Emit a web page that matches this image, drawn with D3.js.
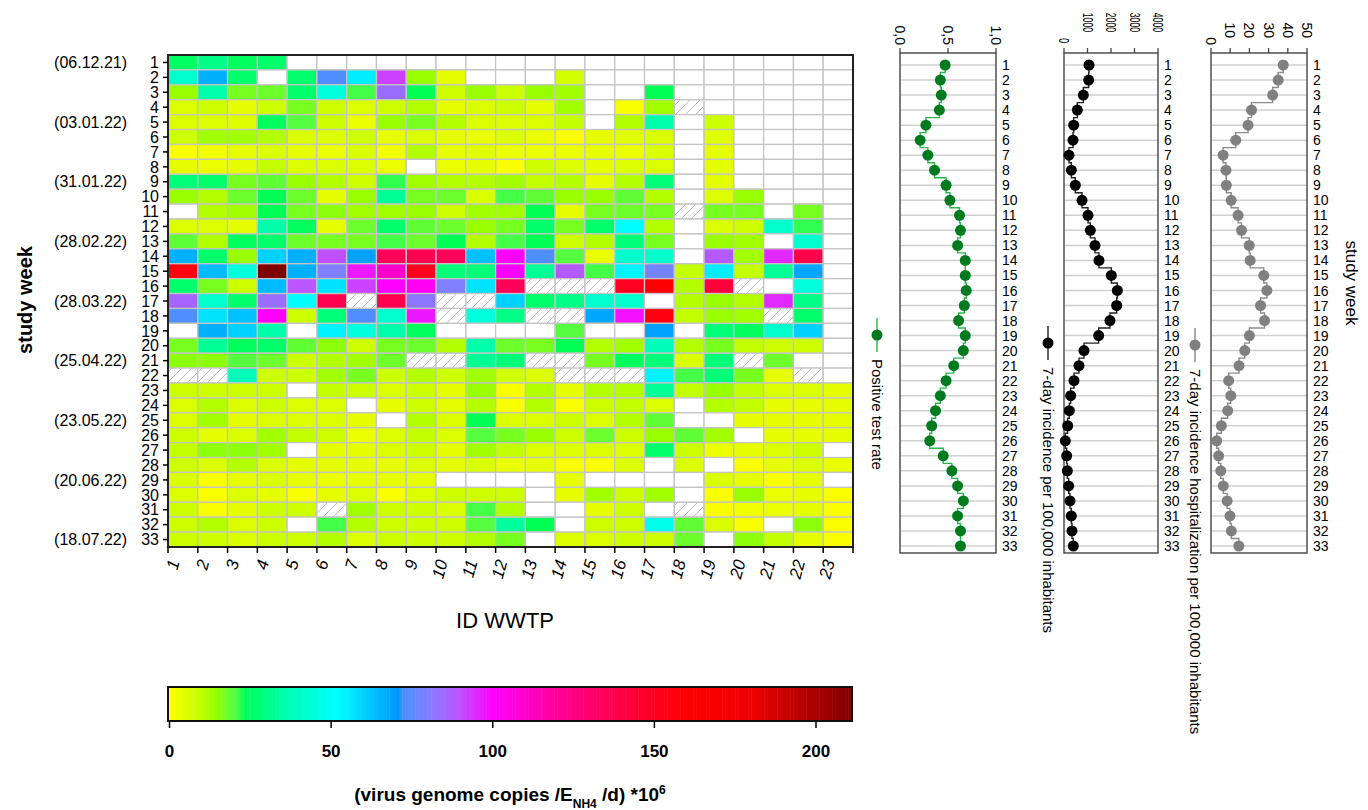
<!DOCTYPE html>
<meta charset="utf-8">
<style>
    body { margin: 0; background: #fff; }
    text { font-family: Arial, "Liberation Sans", sans-serif; fill: #000; }
</style>
<body>
<script src="https://d3js.org/d3.v7.min.js"></script>
<script>

var _ = null, H = "h"; // _ = no sample, H = hatched cell

var weeks = d3.range(1, 34);
var plants = d3.range(1, 24);
var weekDates = {1: "(06.12.21)", 5: "(03.01.22)", 9: "(31.01.22)", 13: "(28.02.22)", 17: "(28.03.22)",
                 21: "(25.04.22)", 25: "(23.05.22)", 29: "(20.06.22)", 33: "(18.07.22)"};

// virus load per week (rows) and WWTP (columns)
var load = [
    [25,30,24,26,_,_,_,_,_,_,_,_,_,_,_,_,_,_,_,_,_,_,_],
    [42,66,26,_,26,73,55,92,14,4,_,_,_,7,_,_,_,_,_,_,_,_,_],
    [14,35,17,18,26,45,21,84,23,8,14,8,14,13,_,_,23,_,_,_,_,_,_],
    [6,8,4,8,17,8,6,8,11,4,6,8,4,13,_,1,13,H,_,_,_,_,_],
    [6,6,5,24,20,8,3,14,17,11,6,6,6,9,_,11,35,_,8,_,_,_,_],
    [8,13,13,11,6,6,8,4,6,4,3,6,3,1,4,5,6,_,5,_,_,_,_],
    [1,2,4,6,4,3,6,2,11,4,5,3,3,3,4,3,6,_,4,_,_,_,_],
    [4,3,4,9,6,6,6,3,_,3,4,1,8,6,4,6,6,_,4,_,_,_,_],
    [28,26,17,19,14,11,8,22,13,11,11,13,9,11,4,11,28,_,4,_,_,_,_],
    [14,11,18,23,18,4,14,32,17,18,6,21,19,14,14,19,11,_,6,14,_,_,_],
    [_,11,13,23,17,15,13,13,14,8,13,13,23,4,17,18,17,H,17,17,_,17,_],
    [6,6,4,35,24,4,18,26,19,18,14,17,26,17,26,52,11,_,6,8,42,22,_],
    [19,11,24,26,18,17,17,21,18,23,11,21,23,8,11,28,17,_,14,13,_,42,_],
    [66,26,14,60,66,90,69,135,137,135,63,100,73,20,3,42,42,_,88,13,95,138,_],
    [155,64,45,211,66,80,97,110,150,28,28,100,32,88,21,54,78,9,55,9,32,68,_],
    [26,17,8,64,89,57,92,100,102,80,57,135,H,H,H,150,165,11,142,H,_,45,_],
    [86,42,26,84,52,138,H,138,82,H,H,60,26,30,42,42,_,11,14,11,95,30,_],
    [73,57,63,100,8,28,73,42,97,H,45,30,H,H,68,98,155,9,14,13,H,26,_],
    [_,66,60,35,_,54,45,35,24,_,_,_,_,20,_,_,69,_,28,24,42,60,_],
    [17,32,24,26,19,15,8,17,18,11,35,18,17,23,11,13,38,11,17,9,8,8,_],
    [15,15,20,18,8,11,13,18,H,H,32,28,H,H,17,24,28,6,28,H,18,_,_],
    [H,H,38,8,8,13,17,8,11,8,13,7,6,H,H,H,54,21,28,17,4,H,_],
    [8,8,8,8,_,9,8,6,8,4,14,1,11,4,11,11,32,9,14,9,6,6,4],
    [6,11,6,8,6,6,_,4,8,4,11,1,11,1,8,9,6,_,11,9,4,4,4],
    [6,13,4,6,6,6,4,_,11,6,23,6,6,8,6,11,19,_,_,4,4,4,4],
    [8,4,6,13,9,8,3,6,9,6,20,17,14,8,18,8,14,19,13,_,4,4,4],
    [9,15,15,13,_,4,4,6,8,4,13,9,6,6,6,6,26,8,3,4,6,8,_],
    [8,6,11,6,4,4,4,4,6,4,6,3,4,1,1,6,_,6,_,1,4,6,3],
    [6,1,4,6,4,3,4,4,4,_,_,_,_,4,_,_,_,_,6,4,1,4,_],
    [6,1,6,4,1,4,6,1,6,8,8,8,_,4,13,8,13,_,1,14,3,4,1],
    [8,1,4,8,8,H,13,8,8,6,21,11,_,_,4,8,_,H,1,2,3,4,1],
    [8,11,6,8,_,21,11,8,8,8,20,33,23,_,8,8,48,19,6,1,_,15,1],
    [8,8,6,8,8,11,6,8,8,8,11,17,_,6,6,8,8,18,_,15,9,4,1]
];

var positiveRate = [0.47,0.42,0.43,0.41,0.27,0.21,0.29,0.36,0.48,0.52,0.62,0.63,0.60,0.68,0.68,0.69,0.67,
                    0.61,0.68,0.66,0.56,0.48,0.42,0.37,0.33,0.31,0.45,0.54,0.60,0.66,0.60,0.63,0.63];
var incidence = [1064,1050,823,567,411,383,213,312,482,766,1021,1120,1319,1489,2014,2270,2241,
                 1957,1475,851,638,426,284,227,156,57,113,142,199,255,312,340,397];
var hospitalization = [37.6,35.0,32.1,21.1,19.3,12.9,6.3,7.8,8.0,10.5,14.1,15.9,19.9,20.4,27.5,29.1,25.8,
                       27.9,20.0,17.6,14.6,9.2,10.3,8.7,5.4,3.0,4.0,5.1,6.4,8.4,9.9,10.6,14.5];

var colorTicks = [0, 50, 100, 150, 200];
var colorMax = 211;

var color = d3.scaleLinear()
    .domain([0, 8, 14, 20, 22, 23, 35, 52, 66, 71, 72, 80, 90, 100, 110, 125, 145, 160, 180, 200, 211])
    .range(["#ffff00", "#ccff00", "#99ff00", "#55ff40", "#30ff50", "#00ff55", "#00ffaa", "#00ffff",
            "#00b0ff", "#0098ff", "#4890ff", "#8080ff", "#c050ff", "#ff00ff", "#ff00cc", "#ff0080",
            "#ff0030", "#ff0000", "#ee0000", "#a80000", "#800000"])
    .clamp(true);

var svg = d3.select("body").append("svg")
    .attr("width", 1368)
    .attr("height", 810);

var defs = svg.append("defs");
var hatch = defs.append("pattern")
    .attr("id", "hatch")
    .attr("patternUnits", "userSpaceOnUse")
    .attr("width", 10)
    .attr("height", 10);
hatch.append("rect").attr("width", 10).attr("height", 10).attr("fill", "#fff");
hatch.append("path")
    .attr("d", "M0,10 L10,0 M-2,2 L2,-2 M8,12 L12,8")
    .attr("stroke", "#bbb")
    .attr("stroke-width", 1);

// ---------- heatmap ----------
var x = d3.scaleBand().domain(plants).range([168, 853]);
var y = d3.scaleBand().domain(weeks).range([55, 547]);

var cells = [];
load.forEach(function(row, i) {
    row.forEach(function(v, j) {
        cells.push({week: weeks[i], plant: plants[j], value: v});
    });
});

svg.append("g").selectAll("rect")
    .data(cells)
    .enter()
    .append("rect")
    .attr("x", function(d) { return x(d.plant); })
    .attr("y", function(d) { return y(d.week); })
    .attr("width", x.bandwidth())
    .attr("height", y.bandwidth())
    .attr("fill", function(d) {
        if (d.value === null) return "#fff";
        if (d.value === H) return "url(#hatch)";
        return color(d.value);
    })
    .attr("stroke", "#c4c4c4")
    .attr("stroke-width", 1.3);

svg.append("rect")
    .attr("x", 168).attr("y", 55)
    .attr("width", 853 - 168).attr("height", 547 - 55)
    .attr("fill", "none")
    .attr("stroke", "#222")
    .attr("stroke-width", 2);

// left axis
var yAxis = svg.append("g");
yAxis.selectAll("line")
    .data(weeks)
    .enter()
    .append("line")
    .attr("x1", 163).attr("x2", 168)
    .attr("y1", function(d) { return y(d) + y.bandwidth() / 2; })
    .attr("y2", function(d) { return y(d) + y.bandwidth() / 2; })
    .attr("stroke", "#000")
    .attr("stroke-width", 1.5);
yAxis.selectAll("text.week")
    .data(weeks)
    .enter()
    .append("text")
    .attr("class", "week")
    .attr("x", 159)
    .attr("y", function(d) { return y(d) + y.bandwidth() / 2; })
    .attr("dy", "0.36em")
    .attr("text-anchor", "end")
    .style("font-size", "16px")
    .text(function(d) { return d; });
yAxis.selectAll("text.date")
    .data(Object.keys(weekDates))
    .enter()
    .append("text")
    .attr("class", "date")
    .attr("x", 127)
    .attr("y", function(d) { return y(+d) + y.bandwidth() / 2; })
    .attr("dy", "0.36em")
    .attr("text-anchor", "end")
    .style("font-size", "16px")
    .text(function(d) { return weekDates[d]; });

svg.append("text")
    .attr("transform", "translate(32,300) rotate(-90)")
    .attr("text-anchor", "middle")
    .style("font-size", "20px")
    .style("font-weight", "bold")
    .text("study week");

// bottom axis
var xAxis = svg.append("g");
xAxis.selectAll("line")
    .data(d3.range(0, 24))
    .enter()
    .append("line")
    .attr("x1", function(d) { return 168 + d * x.step(); })
    .attr("x2", function(d) { return 168 + d * x.step(); })
    .attr("y1", 547).attr("y2", 553)
    .attr("stroke", "#000")
    .attr("stroke-width", 1.5);
xAxis.selectAll("text")
    .data(plants)
    .enter()
    .append("text")
    .attr("transform", function(d) {
        return "translate(" + (x(d) + 6) + ",560) rotate(-75)";
    })
    .attr("text-anchor", "end")
    .attr("dy", "0.35em")
    .style("font-size", "17px")
    .style("font-style", "italic")
    .text(function(d) { return d; });

svg.append("text")
    .attr("x", 505).attr("y", 628)
    .attr("text-anchor", "middle")
    .style("font-size", "22px")
    .text("ID WWTP");

// ---------- colour bar ----------
var cb = d3.scaleLinear().domain([0, 200]).range([169.5, 816]);
var cbTop = 687, cbBottom = 721;

svg.append("g").selectAll("rect")
    .data(d3.range(0, colorMax, 1))
    .enter()
    .append("rect")
    .attr("x", function(d) { return cb(d); })
    .attr("y", cbTop)
    .attr("width", cb(1) - cb(0) + 0.5)
    .attr("height", cbBottom - cbTop)
    .attr("fill", function(d) { return color(d + 0.5); });

svg.append("rect")
    .attr("x", 168).attr("y", cbTop)
    .attr("width", 852 - 168).attr("height", cbBottom - cbTop)
    .attr("fill", "none")
    .attr("stroke", "#111")
    .attr("stroke-width", 2);

var cbAxis = svg.append("g");
cbAxis.selectAll("line")
    .data(colorTicks)
    .enter()
    .append("line")
    .attr("x1", function(d) { return cb(d); })
    .attr("x2", function(d) { return cb(d); })
    .attr("y1", cbBottom).attr("y2", cbBottom + 7)
    .attr("stroke", "#000")
    .attr("stroke-width", 1.5);
cbAxis.selectAll("text")
    .data(colorTicks)
    .enter()
    .append("text")
    .attr("x", function(d) { return cb(d); })
    .attr("y", 757)
    .attr("text-anchor", "middle")
    .style("font-size", "17px")
    .style("font-weight", "bold")
    .text(function(d) { return d; });

var cbTitle = svg.append("text")
    .attr("x", 510).attr("y", 801)
    .attr("text-anchor", "middle")
    .style("font-size", "19px")
    .style("font-weight", "bold");
cbTitle.append("tspan").text("(virus genome copies /E");
cbTitle.append("tspan").attr("baseline-shift", "sub").style("font-size", "12px").text("NH4");
cbTitle.append("tspan").text(" /d) *10");
cbTitle.append("tspan").attr("baseline-shift", "super").style("font-size", "12px").text("6");

// ---------- side panels ----------
var ys = d3.scalePoint().domain(weeks).range([65, 546]);
var panelTop = 53, panelBottom = 553;

function drawPanel(opt) {
    var xs = d3.scaleLinear().domain(opt.domain).range(opt.range);
    var g = svg.append("g");
    var data = opt.values.map(function(v, i) { return {week: weeks[i], value: v}; });

    g.selectAll("line.grid")
        .data(weeks)
        .enter()
        .append("line")
        .attr("class", "grid")
        .attr("x1", opt.range[0]).attr("x2", opt.range[1])
        .attr("y1", function(d) { return ys(d); })
        .attr("y2", function(d) { return ys(d); })
        .attr("stroke", "#d0d0d0")
        .attr("stroke-width", 1.5);

    g.append("rect")
        .attr("x", opt.range[0]).attr("y", panelTop)
        .attr("width", opt.range[1] - opt.range[0])
        .attr("height", panelBottom - panelTop)
        .attr("fill", "none")
        .attr("stroke", "#444")
        .attr("stroke-width", 1.4);

    g.selectAll("line.tick")
        .data(opt.ticks)
        .enter()
        .append("line")
        .attr("class", "tick")
        .attr("x1", function(d) { return xs(d); })
        .attr("x2", function(d) { return xs(d); })
        .attr("y1", panelTop).attr("y2", panelTop - 5)
        .attr("stroke", "#444")
        .attr("stroke-width", 1.3);

    g.selectAll("text.tick")
        .data(opt.ticks)
        .enter()
        .append("text")
        .attr("class", "tick")
        .attr("transform", function(d) {
            return "translate(" + xs(d) + "," + (d === 0 ? opt.labelEnd + opt.zeroShift : opt.labelEnd) + ") rotate(90)";
        })
        .attr("text-anchor", "end")
        .attr("dy", "0.35em")
        .style("font-size", "14px")
        .attr("textLength", opt.labelLength ? function(d) { return opt.labelFormat(d).length * opt.labelLength; } : null)
        .attr("lengthAdjust", "spacingAndGlyphs")
        .text(opt.labelFormat);

    g.selectAll("text.row")
        .data(weeks)
        .enter()
        .append("text")
        .attr("class", "row")
        .attr("x", opt.range[1] + 6)
        .attr("y", function(d) { return ys(d); })
        .attr("dy", "0.36em")
        .style("font-size", "14px")
        .text(function(d) { return d; });

    // step line, drawn with x/y swapped then transposed back
    var line = d3.line()
        .x(function(d) { return ys(d.week); })
        .y(function(d) { return xs(d.value); })
        .curve(d3.curveStep);
    g.append("g")
        .attr("transform", "matrix(0,1,1,0,0,0)")
        .append("path")
        .datum(data)
        .attr("d", line)
        .attr("fill", "none")
        .attr("stroke", opt.lineColor)
        .attr("stroke-width", 1.4);

    g.selectAll("circle")
        .data(data)
        .enter()
        .append("circle")
        .attr("cx", function(d) { return xs(d.value); })
        .attr("cy", function(d) { return ys(d.week); })
        .attr("r", 5.5)
        .attr("fill", opt.dotColor);

    // legend
    var lg = g.append("g");
    lg.append("line")
        .attr("x1", opt.legendX).attr("x2", opt.legendX)
        .attr("y1", opt.legendY - 17).attr("y2", opt.legendY + 17)
        .attr("stroke", opt.lineColor)
        .attr("stroke-width", 1.4);
    lg.append("circle")
        .attr("cx", opt.legendX).attr("cy", opt.legendY)
        .attr("r", 5.5)
        .attr("fill", opt.dotColor);
    lg.append("text")
        .attr("transform", "translate(" + opt.legendX + "," + (opt.legendY + 24) + ") rotate(90)")
        .attr("dy", "0.35em")
        .style("font-size", "15px")
        .text(opt.label);
}

drawPanel({
    domain: [0, 1], range: [900, 996], ticks: [0, 0.5, 1],
    labelFormat: function(d) { return d3.format(".1f")(d).replace(".", ","); },
    labelEnd: 45, zeroShift: 0,
    values: positiveRate, dotColor: "#007a1f", lineColor: "#27b84a",
    legendX: 877, legendY: 335, label: "Positive test rate"
});

drawPanel({
    domain: [0, 4000], range: [1064, 1158], ticks: [0, 1000, 2000, 3000, 4000],
    labelFormat: function(d) { return String(d); }, labelLength: 4.8,
    labelEnd: 32, zeroShift: 11,
    values: incidence, dotColor: "#000", lineColor: "#222",
    legendX: 1048, legendY: 343, label: "7-day incidence per 100,000 inhabitants"
});

drawPanel({
    domain: [0, 50], range: [1211, 1307], ticks: [0, 10, 20, 30, 40, 50],
    labelFormat: function(d) { return String(d); },
    labelEnd: 38, zeroShift: 7,
    values: hospitalization, dotColor: "#808080", lineColor: "#8a8a8a",
    legendX: 1195, legendY: 345, label: "7-day incidence hospitalization per 100,000 inhabitants"
});

svg.append("text")
    .attr("transform", "translate(1352,283) rotate(90)")
    .attr("text-anchor", "middle")
    .attr("dy", "0.35em")
    .style("font-size", "17px")
    .text("study week");

</script>
</body>
